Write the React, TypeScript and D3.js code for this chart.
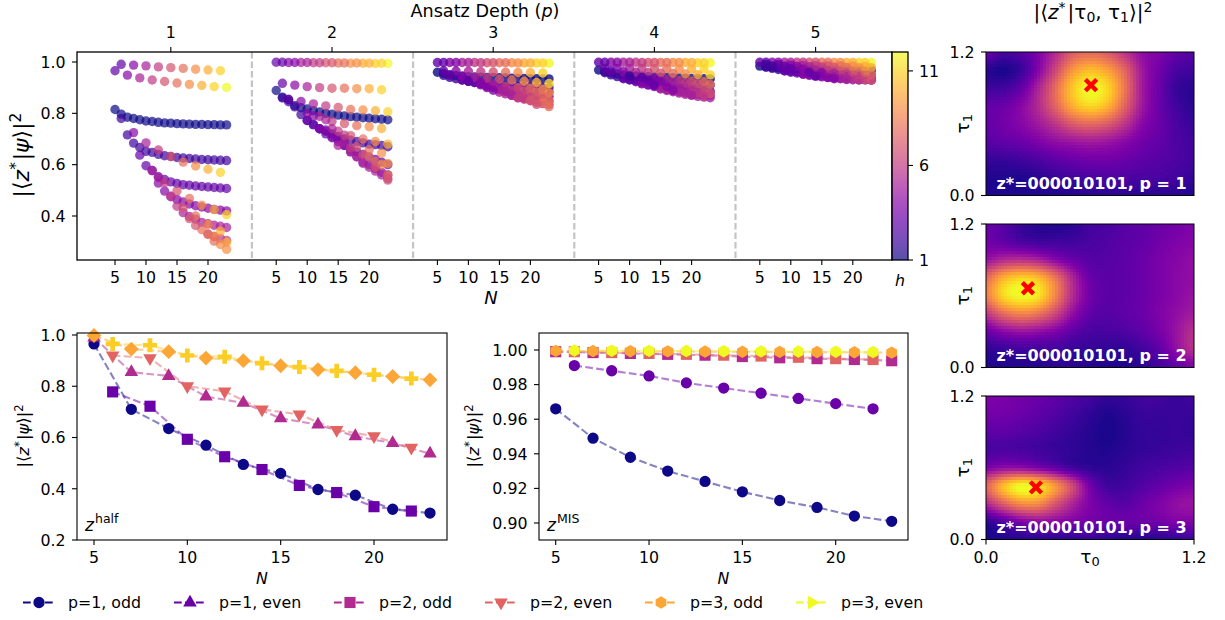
import React from "react";
import * as d3 from "d3";

// ---------- Top panel: [first N, N step, first h, h step, values]
type Row = [number, number, number, number, number[]];

const P1_ROWS: Row[] = [
  [5, 1, 1, 0, [.815,.797,.785,.78,.775,.77,.768,.765,.763,.762,.76,.759,.758,.757,.757,.756,.756,.755,.755]],
  [6, 1, 2, 0, [.78,.716,.684,.667,.652,.648,.64,.635,.632,.628,.626,.624,.622,.62,.619,.618,.617,.616]],
  [9, 1, 3, 0, [.637,.596,.577,.553,.542,.533,.527,.522,.52,.517,.515,.513,.511,.509,.507]],
  [12, 1, 4, 0, [.528,.497,.475,.464,.455,.447,.44,.435,.43,.426,.423,.42]],
  [16, 1, 5, 0, [.413,.398,.388,.375,.37,.364,.36,.355]],
  [20, 1, 6, 0, [.33,.32,.313,.305]],
  [5, 2, 3, 1, [.966,.949,.938,.93,.924,.918,.913,.909,.904,.901]],
  [6, 2, 3, 1, [.991,.988,.985,.981,.978,.975,.972,.969,.966]],
  [8, 2, 4, 1, [.725,.685,.657,.632,.61,.595,.582,.57]],
  [11, 2, 5, 1, [.577,.53,.498,.468,.442,.425,.405]],
  [12, 2, 5, 1, [.55,.478,.432,.4,.367,.341]],
  [15, 2, 6, 1, [.438,.39,.347,.32,.297]],
  [18, 2, 7, 1, [.363,.328,.289]],
  [21, 2, 8, 1, [.302,.27]],
];

const P2_ROWS: Row[] = [
  [5, 1, 1, 0, [.889,.863,.853,.83,.822,.817,.81,.805,.8,.797,.793,.79,.787,.785,.783,.781,.779,.777,.775]],
  [6, 1, 2, 0, [.86,.845,.825,.795,.772,.757,.74,.73,.72,.71,.7,.695,.69,.685,.68,.678,.675,.67]],
  [10, 1, 3, 0, [.772,.755,.74,.72,.705,.69,.675,.66,.65,.64,.63,.62,.61,.6]],
  [12, 1, 4, 0, [.74,.735,.709,.7,.675,.65,.632,.61,.6,.585,.57,.56]],
  [15, 1, 5, 0, [.675,.69,.65,.63,.605,.59,.575,.56,.545]],
  [5, 2, 3, 1, [.999,.998,.998,.997,.997,.996,.995,.995,.994,.994]],
  [6, 2, 3, 1, [.999,.998,.998,.997,.997,.996,.996,.995,.995]],
  [6, 2, 3, 1, [.917,.91,.904,.9,.898,.898,.896,.896,.892]],
  [7, 2, 3, 1, [.855,.846,.837,.829,.823,.815,.813,.81,.806]],
  [10, 2, 4, 1, [.8,.788,.768,.76,.752,.748,.741]],
  [11, 2, 4, 1, [.79,.775,.73,.713,.7,.69,.68]],
  [14, 2, 5, 1, [.74,.715,.67,.658,.645]],
  [17, 2, 6, 1, [.665,.64,.613,.605]],
  [20, 2, 8, 1, [.63,.6]],
  [21, 2, 7, 1, [.59,.56]],
  [23, 1, 7, 0, [.54]],
];

const P3_ROWS: Row[] = [
  [5, 1, 1, 0, [.96,.955,.95,.947,.945,.943,.942,.941,.94,.94,.939,.938,.937,.936,.936,.935,.935,.934,.934]],
  [6, 1, 2, 0, [.948,.94,.935,.93,.925,.92,.917,.914,.911,.909,.907,.905,.904,.903,.902,.901,.9,.9]],
  [9, 1, 3, 0, [.93,.925,.92,.915,.91,.905,.9,.897,.894,.891,.889,.887,.885,.884,.883]],
  [12, 1, 4, 0, [.911,.905,.9,.893,.888,.883,.879,.875,.872,.87,.868,.866]],
  [15, 1, 5, 0, [.882,.876,.87,.865,.86,.856,.853,.85,.848]],
  [18, 1, 6, 0, [.862,.855,.849,.843,.838,.835]],
  [5, 2, 3, 1, [.998,.998,.998,.998,.997,.997,.997,.996,.996,.995]],
  [6, 2, 3, 1, [.998,.998,.998,.997,.997,.997,.996,.996,.996]],
  [6, 2, 3, 1, [.966,.965,.964,.962,.961,.96,.959,.958,.957]],
  [7, 2, 3, 1, [.95,.945,.94,.937,.933,.93,.925,.92,.916]],
  [10, 2, 3, 1, [.925,.92,.912,.905,.9,.897,.893]],
  [13, 2, 4, 1, [.9,.895,.89,.887,.883,.88]],
  [14, 2, 4, 1, [.89,.885,.875,.87,.865]],
  [17, 2, 5, 1, [.87,.86,.855,.85]],
  [18, 2, 6, 1, [.86,.85,.84]],
  [21, 2, 7, 1, [.835,.826]],
];

const P4_ROWS: Row[] = [
  [5, 1, 1, 0, [.969,.962,.957,.953,.95,.948,.946,.945,.943,.942,.941,.94,.939,.938,.937,.936,.935,.935,.934]],
  [6, 1, 2, 0, [.958,.95,.943,.938,.932,.928,.925,.922,.92,.918,.916,.915,.914,.913,.912,.911,.91,.91]],
  [9, 1, 3, 0, [.935,.93,.923,.918,.912,.908,.903,.9,.897,.894,.892,.89,.888,.887,.886]],
  [12, 1, 4, 0, [.915,.91,.904,.898,.893,.888,.884,.88,.877,.875,.873,.871]],
  [15, 1, 5, 0, [.895,.889,.884,.879,.874,.87,.866,.863,.861]],
  [5, 2, 3, 1, [.999,.999,.999,.999,.998,.998,.998,.998,.997,.997]],
  [6, 2, 3, 1, [.999,.999,.999,.998,.998,.998,.998,.998,.997]],
  [6, 2, 3, 1, [.976,.975,.975,.975,.974,.974,.973,.973,.973]],
  [7, 2, 3, 1, [.965,.962,.96,.958,.956,.955,.953,.951,.95]],
  [10, 2, 2, 1, [.945,.94,.935,.93,.927,.925,.923]],
  [13, 2, 3, 1, [.93,.925,.92,.917,.915,.912]],
  [14, 2, 3, 1, [.91,.905,.9,.897,.893]],
  [17, 2, 4, 1, [.89,.885,.88,.877]],
  [20, 2, 5, 1, [.872,.868]],
];

const P5_ROWS: Row[] = [
  [5, 1, 1, 0, [.984,.981,.979,.977,.976,.975,.974,.973,.972,.972,.971,.971,.97,.97,.97,.969,.969,.969,.969]],
  [6, 1, 2, 0, [.98,.975,.971,.967,.964,.962,.96,.958,.956,.955,.954,.953,.952,.951,.951,.95,.95,.95]],
  [9, 1, 3, 0, [.965,.96,.957,.954,.951,.948,.946,.944,.942,.94,.939,.938,.937,.936,.936]],
  [12, 1, 4, 0, [.952,.948,.945,.942,.939,.937,.935,.933,.931,.93,.93,.929]],
  [5, 2, 3, 1, [.999,.999,.999,.999,.999,.999,.998,.998,.998,.998]],
  [6, 2, 3, 1, [.999,.999,.999,.999,.999,.999,.998,.998,.998]],
  [6, 2, 2, 1, [.99,.989,.988,.987,.986,.985,.985,.984,.983]],
  [7, 2, 2, 1, [.985,.984,.983,.982,.981,.98,.979,.978,.978]],
  [10, 2, 3, 1, [.975,.972,.968,.965,.963,.961,.96]],
  [13, 2, 3, 1, [.96,.958,.955,.953,.951,.95]],
  [14, 2, 3, 1, [.945,.94,.937,.935,.932]],
  [17, 2, 4, 1, [.935,.932,.931,.93]],
];

const PANELS: Row[][] = [P1_ROWS, P2_ROWS, P3_ROWS, P4_ROWS, P5_ROWS];
const PANEL_TICKS = [1, 2, 3, 4, 5];
const N_TICKS = [5, 10, 15, 20];
const TOP_Y_TICKS = [1.0, 0.8, 0.6, 0.4];
const H_TICKS = [1, 6, 11];

// ---------- Bottom-left (z half)
const HALF_P1_ODD = [.965,.71,.635,.57,.495,.46,.397,.375,.32,.305];
const HALF_P1_EVEN = [.778,.722,.593,.525,.475,.413,.385,.33,.313];
const HALF_P2_ODD = [.99,.855,.84,.76,.735,.675,.65,.605,.578,.537];
const HALF_P2_EVEN = [.92,.91,.8,.78,.71,.69,.63,.605,.56];
const HALF_P3_ODD = [.998,.945,.935,.91,.9,.88,.865,.853,.838,.825];
const HALF_P3_EVEN = [.965,.96,.92,.915,.89,.875,.86,.845,.83];
// ---------- Bottom-middle (z MIS)
const MIS_P1_ODD = [.966,.949,.938,.93,.924,.918,.913,.909,.904,.901];
const MIS_P1_EVEN = [.991,.988,.985,.981,.978,.975,.972,.969,.966];
const MIS_P2_ODD = [.9990,.9985,.9980,.9975,.9970,.9962,.9955,.9950,.9945,.9938];
const MIS_P2_EVEN = [.9990,.9985,.9980,.9975,.9970,.9965,.9958,.9950,.9945];
const MIS_P3_ODD = [.9995,.9994,.9993,.9992,.9991,.9990,.9989,.9988,.9987,.9985];
const MIS_P3_EVEN = [.9997,.9996,.9995,.9994,.9993,.9992,.9991,.9990,.9988];

const N_ODD = [5,7,9,11,13,15,17,19,21,23];
const N_EVEN = [6,8,10,12,14,16,18,20,22];
const HALF_Y_TICKS = [1.0,.8,.6,.4,.2];
const MIS_Y_TICKS = [1.0,.98,.96,.94,.92,.9];
const BOTTOM_X_TICKS = [5,10,15,20];
const LINE_COLORS = ["#0d0887","#6a00a8","#b12a90","#e16462","#fca636","#f0f921"];
const LEGEND_LABELS = ["p=1, odd","p=1, even","p=2, odd","p=2, even","p=3, odd","p=3, even"];

// ---------- Heat maps: rows run from tau1 = 1.2 down to 0, columns tau0 = 0 to 1.2
const HEAT_1 = [
  [.2,.12,.15,.25,.4,.57,.62,.57,.44,.3,.25,.18,.15],
  [.05,.02,.08,.26,.5,.75,.85,.78,.6,.34,.22,.12,.1],
  [.1,.1,.18,.37,.62,.88,1,.92,.66,.35,.2,.08,.05],
  [.18,.2,.27,.4,.6,.82,.92,.84,.6,.34,.2,.1,.05],
  [.18,.22,.27,.34,.44,.57,.62,.57,.44,.28,.2,.12,.08],
  [.15,.18,.2,.25,.3,.33,.35,.33,.28,.22,.18,.13,.1],
  [.08,.08,.1,.13,.17,.2,.22,.22,.2,.17,.15,.13,.1],
  [.03,.03,.03,.05,.08,.1,.12,.13,.13,.12,.12,.1,.07],
  [.03,.03,.03,.03,.03,.04,.05,.05,.05,.05,.05,.05,.03],
];
const HEAT_2 = [
  [.2,.15,.08,.04,.03,.05,.1,.12,.15,.17,.2,.22,.25],
  [.22,.18,.13,.1,.1,.1,.12,.14,.16,.18,.22,.25,.27],
  [.32,.4,.42,.38,.28,.2,.15,.15,.17,.2,.24,.27,.3],
  [.62,.82,.9,.85,.65,.38,.2,.16,.17,.2,.24,.28,.3],
  [.68,.92,1,.95,.7,.4,.22,.16,.17,.2,.24,.28,.32],
  [.45,.62,.7,.65,.5,.3,.18,.15,.17,.2,.25,.3,.35],
  [.2,.28,.32,.3,.25,.17,.12,.12,.13,.17,.23,.32,.42],
  [.06,.08,.1,.1,.1,.08,.07,.06,.06,.1,.17,.3,.42],
  [.03,.03,.03,.04,.05,.05,.04,.03,.03,.05,.1,.17,.25],
];
const HEAT_3 = [
  [.25,.24,.22,.2,.17,.14,.1,.07,.08,.1,.1,.08,.1],
  [.22,.22,.2,.17,.14,.1,.06,.03,.05,.08,.08,.08,.08],
  [.17,.17,.15,.13,.1,.07,.04,.02,.04,.07,.07,.08,.07],
  [.12,.13,.12,.1,.08,.06,.04,.03,.05,.07,.08,.09,.1],
  [.25,.3,.3,.25,.18,.1,.06,.05,.07,.1,.12,.14,.15],
  [.6,.85,1,.95,.75,.5,.22,.1,.1,.14,.18,.22,.25],
  [.4,.58,.72,.72,.55,.38,.25,.18,.15,.2,.25,.3,.32],
  [.06,.15,.25,.3,.28,.25,.22,.2,.2,.2,.22,.25,.25],
  [.02,.03,.04,.05,.05,.06,.08,.06,.04,.04,.05,.07,.1],
];
const HEATS = [HEAT_1, HEAT_2, HEAT_3];
const HEAT_P = [1, 2, 3];
const BEST_TAU0 = [.606,.242,.288];
const BEST_TAU1 = [.923,.663,.436];
const PLUS_TAU0 = [.335,.335,.335];
const PLUS_TAU1 = [.604,.302,.2];

const FONT = "'DejaVu Sans', sans-serif";
const TICK = 15.8;
const TICK_GAP = 11.5;
const BASE_SHIFT = 5.8;

const hexagon = {
  draw(ctx: any, size: number) {
    const r = Math.sqrt(size / 2.598);
    for (let i = 0; i < 6; i++) {
      const a = Math.PI / 2 + (i * Math.PI) / 3;
      const px = r * Math.cos(a), py = r * Math.sin(a);
      if (i === 0) ctx.moveTo(px, py); else ctx.lineTo(px, py);
    }
    ctx.closePath();
  },
};
type MarkerName = "o" | "^" | "v" | ">" | "s" | "D" | "P" | "h";
const markerPath = (m: MarkerName) => {
  const g = d3.symbol();
  if (m === "o") return g.type(d3.symbolCircle).size(100)();
  if (m === "s") return g.type(d3.symbolSquare).size(124)();
  if (m === "D") return g.type(d3.symbolSquare).size(110)();
  if (m === "P") return g.type(d3.symbolCross).size(110)();
  if (m === "h") return g.type(hexagon as any).size(100)();
  return g.type(d3.symbolTriangle).size(80)();
};
const markerRot = (m: MarkerName) => (m === "D" ? 45 : m === "v" ? 180 : m === ">" ? 90 : 0);

const Marker = ({ m, x, y, c }: { m: MarkerName; x: number; y: number; c: string }) => (
  <path d={markerPath(m) as string} transform={`translate(${x},${y}) rotate(${markerRot(m)})`} fill={c} />
);

const PsiLabel = ({ x, y, size }: { x: number; y: number; size: number }) => (
  <text transform={`translate(${x},${y}) rotate(-90)`} textAnchor="middle" fontSize={size} fontFamily={FONT} fill="#000">
    |⟨<tspan fontStyle="italic">z</tspan>
    <tspan dy={-size * 0.38} fontSize={size * 0.7}>*</tspan>
    <tspan dy={size * 0.38} dx={size * 0.08}>|</tspan>
    <tspan fontStyle="italic">ψ</tspan>⟩|
    <tspan dy={-size * 0.38} fontSize={size * 0.7}>2</tspan>
  </text>
);

const catmull = (p0: number, p1: number, p2: number, p3: number, t: number) =>
  0.5 * (2 * p1 + (p2 - p0) * t + (2 * p0 - 5 * p1 + 4 * p2 - p3) * t * t + (3 * p1 - p0 - 3 * p2 + p3) * t * t * t);

const sampleHeat = (grid: number[][], cx: number, cy: number) => {
  const nr = grid.length, nc = grid[0].length;
  const at = (r: number, c: number) => grid[Math.max(0, Math.min(nr - 1, r))][Math.max(0, Math.min(nc - 1, c))];
  const c0 = Math.min(nc - 2, Math.floor(cx)), r0 = Math.min(nr - 2, Math.floor(cy));
  const tx = cx - c0, ty = cy - r0;
  const rows = [-1, 0, 1, 2].map((dr) =>
    catmull(at(r0 + dr, c0 - 1), at(r0 + dr, c0), at(r0 + dr, c0 + 1), at(r0 + dr, c0 + 2), tx));
  return Math.max(0, Math.min(1, catmull(rows[0], rows[1], rows[2], rows[3], ty)));
};

function TopChart() {
  const left = 77, right = 892, top = 52, bottom = 260;
  const x = d3.scaleLinear().domain([5, 130]).range([115, 115 + 125 * 6.2]);
  const y = d3.scaleLinear().domain([0.4, 1.0]).range([216, 62]);
  const color = d3.scaleSequential(d3.interpolatePlasma).domain([1, 12]);
  const cbY = d3.scaleLinear().domain([1, 12]).range([260, 52]);
  const stops = d3.range(0, 1.0001, 0.05);
  return (
    <g fontFamily={FONT} fill="#000">
      <defs>
        <linearGradient id="hbar" x1="0" y1="1" x2="0" y2="0">
          {stops.map((t) => <stop key={t} offset={t} stopColor={d3.interpolatePlasma(t)} />)}
        </linearGradient>
      </defs>
      {PANEL_TICKS.slice(0, 4).map((p, i) => {
        const px = x(27.08 + 26 * i);
        return <line key={p} x1={px} x2={px} y1={top} y2={bottom} stroke="#c4c4c4" strokeWidth={2.2} strokeDasharray="6.5,3" />;
      })}
      {PANELS.map((rows, pi) =>
        rows.map((row, ri) =>
          row[4].map((v, k) => {
            const n = row[0] + k * row[1];
            const h = row[2] + k * row[3];
            return <circle key={`${pi}-${ri}-${k}`} cx={x(n + 26 * pi)} cy={y(v)} r={4.7} fill={color(h)} fillOpacity={pi < 2 ? 0.7 : 0.8} />;
          })
        )
      )}
      <rect x={left} y={top} width={right - left} height={bottom - top} fill="none" stroke="#000" strokeWidth={1.3} />
      {TOP_Y_TICKS.map((t) => (
        <g key={t}>
          <line x1={left - 5} x2={left} y1={y(t)} y2={y(t)} stroke="#000" strokeWidth={1.1} />
          <text x={left - TICK_GAP} y={y(t) + BASE_SHIFT} textAnchor="end" fontSize={TICK}>{t.toFixed(1)}</text>
        </g>
      ))}
      {PANEL_TICKS.map((p, i) => (
        <g key={p}>
          <line x1={x(14 + 26 * i)} x2={x(14 + 26 * i)} y1={top - 5} y2={top} stroke="#000" strokeWidth={1.1} />
          <text x={x(14 + 26 * i)} y={top - 14} textAnchor="middle" fontSize={TICK}>{p}</text>
          {N_TICKS.map((n) => (
            <g key={n}>
              <line x1={x(n + 26 * i)} x2={x(n + 26 * i)} y1={bottom} y2={bottom + 5} stroke="#000" strokeWidth={1.1} />
              <text x={x(n + 26 * i)} y={bottom + 23} textAnchor="middle" fontSize={TICK}>{n}</text>
            </g>
          ))}
        </g>
      ))}
      <text x={485} y={17} textAnchor="middle" fontSize={17.6}>
        Ansatz Depth (<tspan fontStyle="italic">p</tspan>)
      </text>
      <text x={491} y={304} textAnchor="middle" fontSize={18} fontStyle="italic">N</text>
      <PsiLabel x={29} y={155} size={22} />
      <rect x={892} y={52} width={16} height={208} fill="url(#hbar)" fillOpacity={0.7} />
      <rect x={892} y={52} width={16} height={208} fill="none" stroke="#000" strokeWidth={1.3} />
      {H_TICKS.map((t) => (
        <g key={t}>
          <line x1={908} x2={913} y1={cbY(t)} y2={cbY(t)} stroke="#000" strokeWidth={1.1} />
          <text x={919} y={cbY(t) + BASE_SHIFT} fontSize={TICK}>{t}</text>
        </g>
      ))}
      <text x={900} y={286} textAnchor="middle" fontSize={TICK} fontStyle="italic">h</text>
    </g>
  );
}

type LineDef = { ns: number[]; vs: number[]; m: MarkerName; c: string };

function LinePanel({ left, right, x, y, yTicks, yFmt, lines, tag, tagX, labelX }: any) {
  const top = 333, bottom = 540;
  const line = d3.line<[number, number]>().x((d) => x(d[0])).y((d) => y(d[1]));
  return (
    <g fontFamily={FONT} fill="#000">
      {(lines as LineDef[]).map((l, i) => (
        <path key={i} d={line(l.ns.map((n, k) => [n, l.vs[k]]) as [number, number][]) as string}
          fill="none" stroke={l.c} strokeOpacity={0.5} strokeWidth={2.1} strokeDasharray="7.7,3.3" />
      ))}
      {(lines as LineDef[]).map((l, i) =>
        l.ns.map((n, k) => <Marker key={`${i}-${k}`} m={l.m} x={x(n)} y={y(l.vs[k])} c={l.c} />)
      )}
      <rect x={left} y={top} width={right - left} height={bottom - top} fill="none" stroke="#000" strokeWidth={1.1} />
      {BOTTOM_X_TICKS.map((t) => (
        <g key={t}>
          <line x1={x(t)} x2={x(t)} y1={bottom} y2={bottom + 5} stroke="#000" strokeWidth={1.1} />
          <text x={x(t)} y={bottom + 23} textAnchor="middle" fontSize={TICK}>{t}</text>
        </g>
      ))}
      {yTicks.map((t: number) => (
        <g key={t}>
          <line x1={left - 5} x2={left} y1={y(t)} y2={y(t)} stroke="#000" strokeWidth={1.1} />
          <text x={left - TICK_GAP} y={y(t) + BASE_SHIFT} textAnchor="end" fontSize={TICK}>{yFmt(t)}</text>
        </g>
      ))}
      <text x={(left + right) / 2} y={584} textAnchor="middle" fontSize={TICK} fontStyle="italic">N</text>
      <PsiLabel x={labelX} y={436} size={16.4} />
      <text x={tagX} y={531} fontSize={17} fontStyle="italic">z</text>
      <text x={tagX + 10} y={523} fontSize={12.5}>{tag}</text>
    </g>
  );
}

function Legend() {
  const ms: MarkerName[] = ["o", "^", "s", "v", "h", ">"];
  const starts = [23, 174, 334, 485, 645, 796];
  return (
    <g fontFamily={FONT} fill="#000">
      {LEGEND_LABELS.map((lab, i) => (
        <g key={lab}>
          <line x1={starts[i]} x2={starts[i] + 32} y1={602.5} y2={602.5} stroke={LINE_COLORS[i]} strokeWidth={2.1} strokeDasharray="7.7,3.3" />
          <Marker m={ms[i]} x={starts[i] + 16} y={602.5} c={LINE_COLORS[i]} />
          <text x={starts[i] + 45} y={608} fontSize={TICK}>{lab}</text>
        </g>
      ))}
    </g>
  );
}

function Heat({ grid, topY, p, best0, best1, plus0, plus1, showX }: any) {
  const left = 986, right = 1194, bottom = topY + 143.5, cell = 3;
  const x = d3.scaleLinear().domain([0, 1.2]).range([left, right]);
  const y = d3.scaleLinear().domain([0, 1.2]).range([bottom, topY]);
  const cols = d3.range(left, right, cell);
  const rows = d3.range(topY, bottom, cell);
  const nc = grid[0].length - 1, nr = grid.length - 1;
  return (
    <g fontFamily={FONT} fill="#000">
      <g shapeRendering="crispEdges">
        {rows.map((py: number) =>
          cols.map((px: number) => {
            const v = sampleHeat(grid, ((x.invert(px + cell / 2)) / 1.2) * nc, (1 - y.invert(py + cell / 2) / 1.2) * nr);
            return <rect key={`${px}-${py}`} x={px} y={py} width={Math.min(cell, right - px)} height={Math.min(cell, bottom - py)} fill={d3.interpolatePlasma(v)} />;
          })
        )}
      </g>
      <path d={d3.symbol().type(d3.symbolPlus).size(85)() as string} transform={`translate(${x(plus0)},${y(plus1)})`} fill="#ffee22" />
      <path d={d3.symbol().type(d3.symbolX).size(84)() as string} transform={`translate(${x(best0)},${y(best1)})`} fill="none" stroke="#ff0000" strokeWidth={4.4} />
      <rect x={left} y={topY} width={right - left} height={bottom - topY} fill="none" stroke="#000" strokeWidth={1} />
      {[0, 1.2].map((t) => (
        <g key={t}>
          <line x1={left - 5} x2={left} y1={y(t)} y2={y(t)} stroke="#000" strokeWidth={1.1} />
          <text x={left - TICK_GAP} y={y(t) + BASE_SHIFT} textAnchor="end" fontSize={TICK}>{t.toFixed(1)}</text>
        </g>
      ))}
      {showX && [0, 1.2].map((t) => (
        <g key={t}>
          <line x1={x(t)} x2={x(t)} y1={bottom} y2={bottom + 5} stroke="#000" strokeWidth={1.1} />
          <text x={x(t)} y={bottom + 23} textAnchor="middle" fontSize={TICK}>{t.toFixed(1)}</text>
        </g>
      ))}
      <text transform={`translate(${969},${(topY + bottom) / 2}) rotate(-90)`} textAnchor="middle" fontSize={18.5}>
        τ<tspan fontSize={13} dy={3}>1</tspan>
      </text>
      {showX && (
        <text x={1090} y={bottom + 23} textAnchor="middle" fontSize={18.5}>
          τ<tspan fontSize={13} dy={3}>0</tspan>
        </text>
      )}
      <text x={1091.5} y={bottom - 7} textAnchor="middle" fontSize={16} fontWeight="bold" fill="#fff">{`z*=000010101, p = ${p}`}</text>
    </g>
  );
}

export default function App() {
  const halfX = d3.scaleLinear().domain([5, 20]).range([94, 374]);
  const halfY = d3.scaleLinear().domain([0.2, 1.0]).range([540, 335]);
  const misX = d3.scaleLinear().domain([5, 20]).range([555.7, 835.7]);
  const misY = d3.scaleLinear().domain([0.9, 1.0]).range([523, 350]);
  const halfLines: LineDef[] = [
    { ns: N_ODD, vs: HALF_P1_ODD, m: "o", c: LINE_COLORS[0] },
    { ns: N_EVEN, vs: HALF_P1_EVEN, m: "s", c: LINE_COLORS[1] },
    { ns: N_ODD, vs: HALF_P2_ODD, m: "^", c: LINE_COLORS[2] },
    { ns: N_EVEN, vs: HALF_P2_EVEN, m: "v", c: LINE_COLORS[3] },
    { ns: N_ODD, vs: HALF_P3_ODD, m: "D", c: LINE_COLORS[4] },
    { ns: N_EVEN, vs: HALF_P3_EVEN, m: "P", c: "#fcce25" },
  ];
  const misLines: LineDef[] = [
    { ns: N_ODD, vs: MIS_P1_ODD, m: "o", c: LINE_COLORS[0] },
    { ns: N_EVEN, vs: MIS_P1_EVEN, m: "o", c: LINE_COLORS[1] },
    { ns: N_ODD, vs: MIS_P2_ODD, m: "s", c: LINE_COLORS[2] },
    { ns: N_EVEN, vs: MIS_P2_EVEN, m: "s", c: LINE_COLORS[3] },
    { ns: N_ODD, vs: MIS_P3_ODD, m: "h", c: LINE_COLORS[4] },
    { ns: N_EVEN, vs: MIS_P3_EVEN, m: "h", c: LINE_COLORS[5] },
  ];
  return (
    <svg width={1225} height={620} style={{ position: "absolute", left: 0, top: 0, background: "#fff" }}>
      <TopChart />
      <LinePanel left={77} right={447} x={halfX} y={halfY} yTicks={HALF_Y_TICKS} yFmt={(t: number) => t.toFixed(1)}
        lines={halfLines} tag="half" tagX={85} labelX={29} />
      <LinePanel left={539} right={908} x={misX} y={misY} yTicks={MIS_Y_TICKS} yFmt={(t: number) => t.toFixed(2)}
        lines={misLines} tag="MIS" tagX={547} labelX={479} />
      <Legend />
      <text x={1093} y={19} textAnchor="middle" fontSize={20} fontFamily={FONT} fill="#000">
        |⟨<tspan fontStyle="italic">z</tspan>
        <tspan dy={-7} fontSize={14}>*</tspan>
        <tspan dy={7} dx={2}>|</tspan>τ<tspan dy={3} fontSize={14}>0</tspan>
        <tspan dy={-3}>, τ</tspan><tspan dy={3} fontSize={14}>1</tspan>
        <tspan dy={-3}>⟩|</tspan><tspan dy={-7} fontSize={14}>2</tspan>
      </text>
      {HEATS.map((g, i) => (
        <Heat key={i} grid={g} topY={[52, 224, 396][i]} p={HEAT_P[i]} best0={BEST_TAU0[i]} best1={BEST_TAU1[i]}
          plus0={PLUS_TAU0[i]} plus1={PLUS_TAU1[i]} showX={i === 2} />
      ))}
    </svg>
  );
}
